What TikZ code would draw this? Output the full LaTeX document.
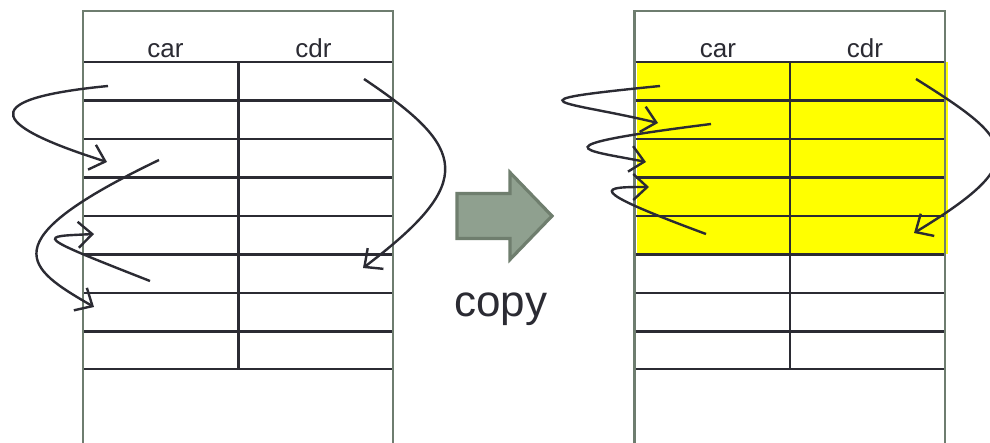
\documentclass[tikz,border=0pt]{standalone}
\usepackage{fontspec}
\setmainfont{Liberation Sans}
\usetikzlibrary{arrows.meta}
\definecolor{frame}{HTML}{6E7D6F}
\definecolor{ink}{HTML}{2B2B33}
\definecolor{hl}{HTML}{FFFF00}
\definecolor{arrfill}{HTML}{8FA08F}
\definecolor{arrdraw}{HTML}{6F7E6E}
\tikzset{
  outer/.style={draw=frame, line width=2.6pt},
  cellline/.style={draw=ink, line width=2.5pt},
  lbl/.style={font=\fontsize{26}{30}\selectfont, text=ink, anchor=base, inner sep=0pt},
  copylbl/.style={font=\fontsize{44}{50}\selectfont, text=ink, anchor=base, inner sep=0pt},
  ptr/.style={draw=ink, line width=2.4pt, -{Straight Barb[length=14pt,width=26pt]}},
  bigarrow/.style={fill=arrfill, draw=arrdraw, line width=3.2pt, line join=miter}
}
\begin{document}
\begin{tikzpicture}[x=1pt,y=-1pt]
\useasboundingbox (0,0) rectangle (990,443);
\clip (0,0) rectangle (990,443);
\fill[white] (0,0) rectangle (990,443);

% ---------- left table ----------
\draw[outer] (83,11) rectangle (393,460);
\foreach \yy in {62,100.5,139,177.5,216,254.5,293,331.5,369}
  \draw[cellline] (84,\yy) -- (392,\yy);
\draw[cellline] (238.5,62) -- (238.5,369);
\node[lbl] (lcar) at (165.5,57.5) {car};
\node[lbl] (lcdr) at (313.5,57.5) {cdr};

% ---------- right table ----------
\fill[hl] (637,62) rectangle (948,254.5);
\draw[outer] (634.5,11) rectangle (945,460);
\foreach \yy in {62,100.5,139,177.5,216,254.5,293,331.5,369}
  \draw[cellline] (635.5,\yy) -- (944,\yy);
\draw[cellline] (789.8,62) -- (789.8,369);
\node[lbl] (rcar) at (718,57.5) {car};
\node[lbl] (rcdr) at (865,57.5) {cdr};

% ---------- copy arrow ----------
\draw[bigarrow] (457,193.5) -- (510,193.5) -- (510,172.5) -- (552,216) -- (510,259.5) -- (510,238.5) -- (457,238.5) -- cycle;
\node[copylbl] (copy) at (501,317) {copy};

% ---------- left pointers ----------
\coordinate (l1s) at (108,86);   \coordinate (l1e) at (107,162);
\coordinate (l2s) at (159,160);  \coordinate (l2e) at (94,307);
\coordinate (l3s) at (150,281);  \coordinate (l3e) at (94,234);
\coordinate (l4s) at (364,79);   \coordinate (l4e) at (363,268);
\draw[ptr] (l1s) .. controls (-35,100) and (0,128) .. (l1e);
\draw[ptr] (l2s) .. controls (-13,242.6) and (27.4,268.4) .. (l2e);
\draw[ptr] (l3s) .. controls (30,234) and (40,236.7) .. (l3e);
\draw[ptr] (l4s) .. controls (467,148) and (477,181.7) .. (l4e);

% ---------- right pointers ----------
\coordinate (r1s) at (660,86);   \coordinate (r1e) at (658,123);
\coordinate (r2s) at (711,124);  \coordinate (r2e) at (646,162);
\coordinate (r3s) at (706,234);  \coordinate (r3e) at (649,187);
\coordinate (r4s) at (916,79);   \coordinate (r4e) at (914,233);
\draw[ptr] (r1s) .. controls (500.8,101.9) and (563.9,100.4) .. (r1e);
\draw[ptr] (r2s) .. controls (530.1,146.8) and (585.6,149.9) .. (r2e);
\draw[ptr] (r3s) .. controls (580,187.4) and (603,187) .. (r3e);
\draw[ptr] (r4s) .. controls (1015,141) and (1033.6,160.4) .. (r4e);
\end{tikzpicture}
\end{document}
